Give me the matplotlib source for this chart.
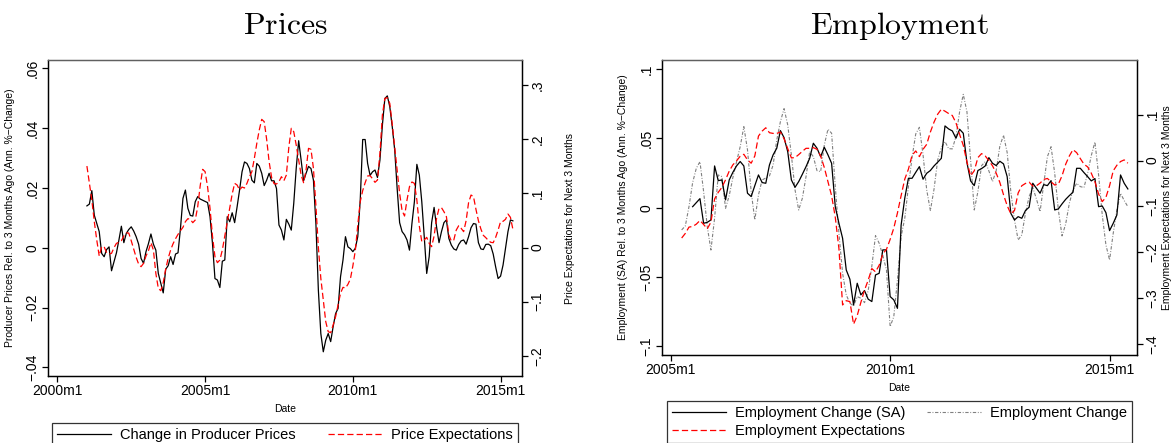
import matplotlib
matplotlib.use('Agg')
import matplotlib.pyplot as plt
import numpy as np

plt.rcParams['font.family'] = ['Liberation Sans', 'DejaVu Sans']
plt.rcParams['mathtext.fontset'] = 'cm'

# ---- Prices panel: monthly, 2001m1 .. 2015m6 (months since 2000m1 = 12..185)
price_start = 12
ppi_change = [
    0.0140, 0.0146, 0.0191, 0.0109, 0.0081, 0.0054, -0.0019, -0.0030, -0.0006, 0.0003, -0.0077, -0.0047,
    -0.0017, 0.0026, 0.0072, 0.0017, 0.0048, 0.0061, 0.0070, 0.0056, 0.0037, 0.0012, -0.0036, -0.0052,
    -0.0013, 0.0014, 0.0046, 0.0012, -0.0008, -0.0086, -0.0119, -0.0151, -0.0072, -0.0060, -0.0030, -0.0056,
    -0.0021, -0.0017, 0.0065, 0.0165, 0.0193, 0.0132, 0.0108, 0.0106, 0.0154, 0.0171, 0.0163, 0.0159,
    0.0155, 0.0151, 0.0104, 0.0014, -0.0103, -0.0108, -0.0133, -0.0045, -0.0041, 0.0104, 0.0087, 0.0117,
    0.0084, 0.0137, 0.0193, 0.0254, 0.0287, 0.0282, 0.0265, 0.0226, 0.0217, 0.0282, 0.0273, 0.0249,
    0.0208, 0.0226, 0.0249, 0.0224, 0.0224, 0.0198, 0.0076, 0.0059, 0.0026, 0.0095, 0.0079, 0.0059,
    0.0148, 0.0265, 0.0358, 0.0293, 0.0224, 0.0249, 0.0272, 0.0265, 0.0226, 0.0081, -0.0142, -0.0287,
    -0.0348, -0.0309, -0.0287, -0.0314, -0.0264, -0.0220, -0.0203, -0.0097, -0.0041, 0.0037, 0.0003, -0.0003,
    -0.0013, -0.0002, 0.0037, 0.0159, 0.0362, 0.0362, 0.0282, 0.0242, 0.0254, 0.0260, 0.0235, 0.0293,
    0.0410, 0.0499, 0.0508, 0.0472, 0.0405, 0.0327, 0.0198, 0.0084, 0.0054, 0.0043, 0.0026, -0.0008,
    0.0081, 0.0154, 0.0279, 0.0243, 0.0154, 0.0037, -0.0086, -0.0030, 0.0084, 0.0135, 0.0070, 0.0017,
    0.0054, 0.0084, 0.0093, 0.0031, 0.0009, -0.0004, -0.0008, 0.0011, 0.0023, 0.0026, 0.0012, 0.0037,
    0.0067, 0.0081, 0.0079, 0.0017, -0.0004, -0.0006, 0.0011, 0.0012, 0.0007, -0.0021, -0.0064, -0.0103,
    -0.0095, -0.0058, -0.0002, 0.0054, 0.0093, 0.0090,
]
price_expect = [
    0.1506, 0.1186, 0.0878, 0.0478, 0.0139, -0.0157, 0.0015, 0.0015, -0.0096, -0.0120, -0.0108, -0.0003,
    0.0077, 0.0096, 0.0126, 0.0213, 0.0268, 0.0268, 0.0126, -0.0028, -0.0182, -0.0305, -0.0354, -0.0293,
    -0.0157, -0.0059, 0.0089, -0.0046, -0.0478, -0.0755, -0.0798, -0.0650, -0.0397, -0.0200, -0.0046, 0.0071,
    0.0163, 0.0243, 0.0311, 0.0373, 0.0478, 0.0533, 0.0521, 0.0459, 0.0508, 0.0755, 0.1137, 0.1445,
    0.1402, 0.1124, 0.0724, 0.0213, -0.0169, -0.0280, -0.0231, -0.0046, 0.0213, 0.0465, 0.0724, 0.0989,
    0.1186, 0.1155, 0.1063, 0.1118, 0.1100, 0.1186, 0.1309, 0.1402, 0.1648, 0.1925, 0.2172, 0.2369,
    0.2326, 0.1999, 0.1587, 0.1297, 0.1180, 0.1174, 0.1217, 0.1309, 0.1235, 0.1340, 0.1852, 0.2203,
    0.2141, 0.1895, 0.1617, 0.1340, 0.1198, 0.1433, 0.1833, 0.1815, 0.1463, 0.0773, 0.0003, -0.0570,
    -0.0970, -0.1371, -0.1556, -0.1574, -0.1433, -0.1279, -0.1063, -0.0847, -0.0736, -0.0749, -0.0681, -0.0582,
    -0.0342, -0.0059, 0.0416, 0.0847, 0.1051, 0.1198, 0.1322, 0.1328, 0.1272, 0.1205, 0.1248, 0.1741,
    0.2449, 0.2757, 0.2769, 0.2665, 0.2283, 0.1852, 0.1433, 0.1001, 0.0681, 0.0582, 0.0878, 0.1124,
    0.1211, 0.1186, 0.0878, 0.0397, 0.0108, 0.0139, 0.0188, 0.0077, 0.0015, 0.0213, 0.0539, 0.0724,
    0.0736, 0.0662, 0.0570, 0.0231, 0.0120, 0.0139, 0.0323, 0.0404, 0.0354, 0.0293, 0.0496, 0.0829,
    0.0970, 0.0940, 0.0705, 0.0496, 0.0342, 0.0225, 0.0182, 0.0132, 0.0096, 0.0089, 0.0188, 0.0323,
    0.0478, 0.0484, 0.0521, 0.0619, 0.0558, 0.0336,
]

# ---- Employment panel: monthly, months since 2005m1
emp_sa_start = 6      # 2005m7
emp_sa = [
    0.0007, 0.0036, 0.0065, -0.0113, -0.0106, -0.0089, 0.0301, 0.0195, 0.0200, 0.0056, 0.0200, 0.0255,
    0.0301, 0.0333, 0.0301, 0.0104, 0.0080, 0.0159, 0.0236, 0.0181, 0.0176, 0.0308, 0.0381, 0.0429,
    0.0556, 0.0505, 0.0404, 0.0200, 0.0147, 0.0188, 0.0241, 0.0296, 0.0356, 0.0465, 0.0429, 0.0368,
    0.0436, 0.0381, 0.0320, 0.0007, -0.0113, -0.0221, -0.0450, -0.0517, -0.0703, -0.0546, -0.0630, -0.0599,
    -0.0661, -0.0678, -0.0486, -0.0474, -0.0305, -0.0305, -0.0642, -0.0666, -0.0727, -0.0127, 0.0068, 0.0212,
    0.0212, 0.0255, 0.0296, 0.0205, 0.0248, 0.0268, 0.0301, 0.0328, 0.0356, 0.0590, 0.0568, 0.0554,
    0.0501, 0.0566, 0.0537, 0.0325, 0.0193, 0.0159, 0.0268, 0.0282, 0.0301, 0.0361, 0.0320, 0.0304,
    0.0335, 0.0316, 0.0224, -0.0041, -0.0089, -0.0065, -0.0077, -0.0021, 0.0003, 0.0176, 0.0140, 0.0104,
    0.0166, 0.0159, 0.0195, -0.0017, -0.0009, 0.0027, 0.0060, 0.0087, 0.0111, 0.0284, 0.0284, 0.0253,
    0.0224, 0.0193, 0.0210, 0.0007, 0.0012, -0.0036, -0.0166, -0.0113, -0.0053, 0.0236, 0.0176, 0.0135,
]
emp_start = 3         # 2005m4
emp_raw = [
    -0.0161, -0.0132, 0.0007, 0.0181, 0.0284, 0.0332, 0.0116, -0.0137, -0.0306, -0.0077, 0.0236, 0.0224,
    -0.0005, 0.0087, 0.0217, 0.0330, 0.0440, 0.0585, 0.0417, 0.0116, -0.0089, 0.0092, 0.0200, 0.0214,
    0.0229, 0.0308, 0.0489, 0.0621, 0.0715, 0.0597, 0.0380, 0.0128, -0.0017, 0.0068, 0.0224, 0.0405,
    0.0368, 0.0267, 0.0260, 0.0453, 0.0566, 0.0537, 0.0152, -0.0185, -0.0474, -0.0630, -0.0690, -0.0710,
    -0.0642, -0.0654, -0.0686, -0.0599, -0.0421, -0.0202, -0.0257, -0.0346, -0.0450, -0.0859, -0.0787, -0.0522,
    -0.0209, -0.0077, 0.0152, 0.0364, 0.0532, 0.0580, 0.0381, 0.0128, -0.0021, 0.0133, 0.0344, 0.0433,
    0.0477, 0.0426, 0.0424, 0.0513, 0.0693, 0.0818, 0.0693, 0.0344, -0.0017, 0.0116, 0.0303, 0.0332,
    0.0265, 0.0188, 0.0267, 0.0445, 0.0523, 0.0398, 0.0116, -0.0089, -0.0233, -0.0197, -0.0041, 0.0080,
    0.0145, 0.0063, -0.0029, 0.0171, 0.0368, 0.0440, 0.0248, -0.0017, -0.0204, -0.0118, 0.0032, 0.0128,
    0.0176, 0.0152, 0.0145, 0.0248, 0.0376, 0.0474, 0.0236, -0.0053, -0.0269, -0.0378, -0.0185, -0.0017,
    0.0104, 0.0051, 0.0007,
]
emp_expect = [
    -0.1688, -0.1587, -0.1450, -0.1436, -0.1386, -0.1306, -0.1393, -0.1487, -0.1342, -0.0837, -0.0693, -0.0585,
    -0.0419, -0.0231, -0.0094, -0.0008, 0.0093, 0.0136, 0.0014, -0.0058, 0.0100, 0.0533, 0.0641, 0.0714,
    0.0606, 0.0591, 0.0591, 0.0620, 0.0475, 0.0259, 0.0057, 0.0064, 0.0129, 0.0201, 0.0266, 0.0266,
    0.0281, 0.0245, 0.0100, -0.0152, -0.0462, -0.0766, -0.1234, -0.1920, -0.3146, -0.3052, -0.3074, -0.3565,
    -0.3377, -0.3089, -0.2822, -0.2605, -0.2353, -0.2425, -0.2281, -0.2035, -0.1934, -0.1718, -0.1472, -0.1141,
    -0.0766, -0.0405, -0.0188, 0.0115, 0.0209, 0.0086, 0.0245, 0.0353, 0.0620, 0.0836, 0.1009, 0.1118,
    0.1075, 0.1024, 0.0981, 0.0822, 0.0569, 0.0331, -0.0030, -0.0333, -0.0224, 0.0064, 0.0151, 0.0100,
    -0.0001, -0.0116, -0.0275, -0.0477, -0.0744, -0.0982, -0.1162, -0.1090, -0.0708, -0.0549, -0.0499, -0.0470,
    -0.0556, -0.0549, -0.0491, -0.0412, -0.0390, -0.0462, -0.0534, -0.0513, -0.0333, -0.0080, 0.0100, 0.0237,
    0.0172, 0.0043, -0.0080, -0.0138, -0.0275, -0.0462, -0.0729, -0.0895, -0.0802, -0.0549, -0.0224, -0.0102,
    -0.0022, 0.0014, -0.0058,
]

W, H = 1171, 443
fig = plt.figure(figsize=(W / 100, H / 100), dpi=100)

RED = '#ff0000'
GREY = '#808080'
TICKFS = 10
LABFS = 7.5


def style(ax):
    for s in ['left', 'right', 'bottom', 'top']:
        ax.spines[s].set_linewidth(0.9)
        ax.spines[s].set_color('black')
    ax.spines['top'].set_color('#606060')
    ax.tick_params(direction='out', length=4, width=0.9, labelsize=TICKFS, pad=2)


def box(x0, y0, x1, y1):
    return [x0 / W, 1 - y1 / H, (x1 - x0) / W, (y1 - y0) / H]


# ---------------- Prices ----------------
ax1 = fig.add_axes(box(48, 60, 522, 376))
ax1r = ax1.twinx()
t_p = np.arange(price_start, price_start + len(ppi_change))
l1, = ax1.plot(t_p, ppi_change, color='black', lw=0.9)
l2, = ax1r.plot(t_p, price_expect, color=RED, lw=0.9, dashes=(5, 2.5))
ax1.set_xlim(-3.8, 188.7)
ax1.set_ylim(-0.0429, 0.0628)
ax1r.set_ylim(-0.2375, 0.3466)
ax1.set_xticks([0, 60, 120, 180])
ax1.set_xticklabels(['2000m1', '2005m1', '2010m1', '2015m1'])
ax1.set_yticks([-0.04, -0.02, 0, 0.02, 0.04, 0.06])
ax1.set_yticklabels(['\u2212.04', '\u2212.02', '0', '.02', '.04', '.06'], rotation=90, va='center')
ax1r.set_yticks([-0.2, -0.1, 0, 0.1, 0.2, 0.3])
ax1r.set_yticklabels(['\u2212.2', '\u2212.1', '0', '.1', '.2', '.3'], rotation=90, va='center')
style(ax1)
style(ax1r)
ax1.set_xlabel('Date', fontsize=LABFS, labelpad=4)
ax1.set_ylabel('Producer Prices Rel. to 3 Months Ago (Ann. %\u2212Change)', fontsize=LABFS)
ax1r.set_ylabel('Price Expectations for Next 3 Months', fontsize=LABFS)
ax1.yaxis.set_label_coords((15 - 48) / 474, 0.5)
ax1r.yaxis.set_label_coords((565 - 48) / 474, 0.5)
fig.text(285 / W, 1 - 34 / H, r'$\mathrm{Prices}$', fontsize=23, ha='center', va='baseline')

leg1 = fig.legend([l1, l2], ['Change in Producer Prices', 'Price Expectations'],
                  loc='upper left', bbox_to_anchor=(52 / W, -0.5, 466 / W, 0.5 + 1 - 423 / H),
                  mode='expand', ncol=2, fontsize=10.5, frameon=True, fancybox=False,
                  edgecolor='black', handlelength=3.7, handletextpad=0.6, borderaxespad=0,
                  borderpad=0.35)
leg1.get_frame().set_linewidth(0.9)

# ---------------- Employment ----------------
ax2 = fig.add_axes(box(661.7, 60, 1137, 355))
ax2r = ax2.twinx()
t_sa = np.arange(emp_sa_start, emp_sa_start + len(emp_sa))
t_e = np.arange(emp_start, emp_start + len(emp_raw))
m1, = ax2.plot(t_sa, emp_sa, color='black', lw=0.9, zorder=3)
m2, = ax2.plot(t_e, emp_raw, color=GREY, lw=0.8, dashes=(3, 1.5, 0.8, 1.5), zorder=2)
m3, = ax2r.plot(t_e, emp_expect, color=RED, lw=0.9, dashes=(5, 2.5))
ax2.set_xlim(-2.46, 127.5)
ax2.set_ylim(-0.1064, 0.1066)
ax2r.set_ylim(-0.4236, 0.219)
ax2.set_xticks([0, 60, 120])
ax2.set_xticklabels(['2005m1', '2010m1', '2015m1'])
ax2.set_yticks([-0.1, -0.05, 0, 0.05, 0.1])
ax2.set_yticklabels(['\u2212.1', '\u2212.05', '0', '.05', '.1'], rotation=90, va='center')
ax2r.set_yticks([-0.4, -0.3, -0.2, -0.1, 0, 0.1])
ax2r.set_yticklabels(['\u2212.4', '\u2212.3', '\u2212.2', '\u2212.1', '0', '.1'], rotation=90, va='center')
style(ax2)
style(ax2r)
ax2.set_xlabel('Date', fontsize=LABFS, labelpad=4)
ax2.set_ylabel('Employment (SA) Rel. to 3 Months Ago (Ann. %\u2212Change)', fontsize=LABFS)
ax2r.set_ylabel('Employment Expectations for Next 3 Months', fontsize=LABFS)
ax2.yaxis.set_label_coords((628 - 661.7) / 475.3, 0.5)
ax2r.yaxis.set_label_coords((1162 - 661.7) / 475.3, 0.5)
fig.text(899 / W, 1 - 34 / H, r'$\mathrm{Employment}$', fontsize=23, ha='center', va='baseline')

# column-first fill: m1 / m3 in column 1, m2 in column 2
leg2 = fig.legend([m1, m3, m2],
                  ['Employment Change (SA)', 'Employment Expectations', 'Employment Change'],
                  loc='upper left', bbox_to_anchor=(667 / W, -0.5, 465 / W, 0.5 + 1 - 401 / H),
                  mode='expand', ncol=2, fontsize=10.5, frameon=True, fancybox=False,
                  edgecolor='black', handlelength=3.7, handletextpad=0.6, borderaxespad=0,
                  borderpad=0.35, labelspacing=0.25)
leg2.get_frame().set_linewidth(0.9)

fig.savefig('out.png', dpi=100)
